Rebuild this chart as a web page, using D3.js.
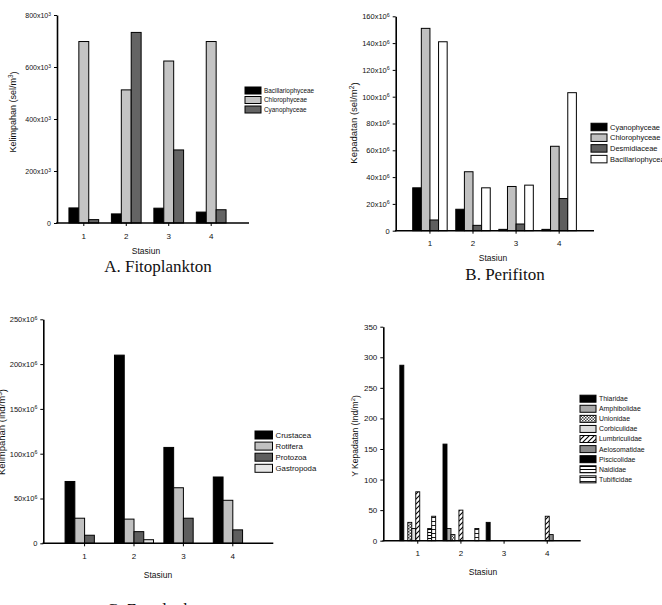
<!DOCTYPE html>
<html><head><meta charset="utf-8">
<script src="https://cdn.jsdelivr.net/npm/d3@7"></script>
<style>body{margin:0;background:#fff}svg{display:block}text{font-family:"Liberation Sans",Arial,sans-serif;fill:#111}</style>
</head><body><svg id="c" width="662" height="605"></svg>
<script>
const stations = ["1","2","3","4"];

// A. Fitoplankton (x10^3 sel/m3)
const fitoSeries = ["Bacillariophyceae","Chlorophyceae","Cyanophyceae"];
const fitoBacillariophyceae = [58, 35, 57, 42];
const fitoChlorophyceae = [698, 512, 623, 698];
const fitoCyanophyceae = [13, 733, 281, 51];
const fitoTicks = [0, 200, 400, 600, 800];

// B. Perifiton (x10^6 sel/m2)
const periSeries = ["Cyanophyceae","Chlorophyceae","Desmidiaceae","Bacillariophyceae"];
const periCyanophyceae = [32, 16, 1, 1];
const periChlorophyceae = [151, 44, 33, 63];
const periDesmidiaceae = [8, 4, 5, 24];
const periBacillariophyceae = [141, 32, 34, 103];
const periTicks = [0, 20, 40, 60, 80, 100, 120, 140, 160];

// C. Zooplankton (x10^6 ind/m3)
const zooSeries = ["Crustacea","Rotifera","Protozoa","Gastropoda"];
const zooCrustacea = [69, 210, 107, 74];
const zooRotifera = [28, 27, 62, 48];
const zooProtozoa = [9, 13, 28, 15];
const zooGastropoda = [0, 4, 0, 0];
const zooTicks = [0, 50, 100, 150, 200, 250];

// D. Bentos (ind/m2)
const bentSeries = ["Thiaridae","Amphibolidae","Unionidae","Corbiculidae","Lumbriculidae","Aelosomatidae","Piscicolidae","Naididae","Tubificidae"];
const bentThiaridae = [287, 158, 30, 0];
const bentAmphibolidae = [0, 20, 0, 0];
const bentUnionidae = [30, 10, 0, 0];
const bentCorbiculidae = [20, 0, 0, 0];
const bentLumbriculidae = [80, 50, 0, 40];
const bentAelosomatidae = [0, 0, 0, 10];
const bentPiscicolidae = [0, 0, 0, 0];
const bentNaididae = [20, 0, 0, 0];
const bentTubificidae = [40, 20, 0, 0];
const bentTicks = [0, 50, 100, 150, 200, 250, 300, 350];

const svg = d3.select("#c");
const defs = svg.append("defs");
function pat(id, w, h, build){
  const p = defs.append("pattern").attr("id", id).attr("patternUnits","userSpaceOnUse").attr("width", w).attr("height", h);
  p.append("rect").attr("width", w).attr("height", h).attr("fill", "#fff");
  build(p);
}
pat("hatch", 5, 5, p => p.append("path").attr("d","M0,5 L5,0 M-1,1 L1,-1 M4,6 L6,4").attr("stroke","#000").attr("stroke-width",1.1));
pat("check", 3, 3, p => { p.append("rect").attr("width",1.5).attr("height",1.5).attr("fill","#444"); p.append("rect").attr("x",1.5).attr("y",1.5).attr("width",1.5).attr("height",1.5).attr("fill","#444"); });
pat("hline", 3, 3, p => p.append("path").attr("d","M0,1.5 H3").attr("stroke","#000").attr("stroke-width",1));
pat("wave", 4, 4, p => p.append("path").attr("d","M0,1 Q1,3 2,1 Q3,3 4,1").attr("stroke","#000").attr("fill","none").attr("stroke-width",0.9));

function supLabel(sel, base, exp, supSize){
  sel.each(function(d){
    const t = d3.select(this);
    t.text(null);
    if (d === 0 || exp === null) { t.text(d); return; }
    t.append("tspan").text(d + "x10" + base);
    t.append("tspan").attr("dy","-0.45em").attr("font-size", supSize).text(exp);
  });
}

function panel(cfg){
  const g = svg.append("g");
  const x0 = d3.scaleBand().domain(stations).range(cfg.xr).padding(cfg.pad);
  const x1 = d3.scaleBand().domain(cfg.series).range([0, x0.bandwidth()]);
  const y = d3.scaleLinear().domain([0, cfg.ymax]).range([cfg.base, cfg.top]);

  cfg.series.forEach((s, i) => {
    g.append("g").selectAll("rect")
      .data(cfg.values[i].map((v, j) => ({v, st: stations[j]})).filter(d => d.v > 0))
      .join("rect")
      .attr("x", d => x0(d.st) + x1(s))
      .attr("width", x1.bandwidth())
      .attr("y", d => y(d.v))
      .attr("height", d => y(0) - y(d.v))
      .attr("fill", cfg.fills[i])
      .attr("stroke", "#000").attr("stroke-width", cfg.bw || 1);
  });

  // y axis
  const ya = g.append("g").attr("transform", `translate(${cfg.ax},0)`)
    .call(d3.axisLeft(y).tickValues(cfg.ticks).tickSize(3).tickPadding(3).tickSizeOuter(0));
  ya.select(".domain").attr("stroke-width", 1.6);
  ya.selectAll(".tick line").attr("stroke-width", 1);
  ya.selectAll(".tick text").attr("font-size", cfg.tfs).attr("font-family", '"Liberation Sans",Arial,sans-serif').attr("fill","#222")
    .call(supLabel, "", cfg.exp, cfg.tfs * 0.7);

  // x axis
  const xa = g.append("g").attr("transform", `translate(0,${cfg.base})`)
    .call(d3.axisBottom(x0).tickSize(3).tickPadding(7).tickSizeOuter(0));
  xa.select(".domain").remove();
  xa.selectAll(".tick text").attr("font-size", 8).attr("font-family", '"Liberation Sans",Arial,sans-serif').attr("fill","#222");
  g.append("line").attr("x1", cfg.ax - 0.8).attr("x2", cfg.axEnd).attr("y1", cfg.base).attr("y2", cfg.base)
    .attr("stroke", "#000").attr("stroke-width", 1.6);

  // y title
  const yt = g.append("text").attr("transform", `translate(${cfg.yt[0]},${cfg.yt[1]}) rotate(-90)`)
    .attr("text-anchor", "middle").attr("font-size", cfg.ytfs);
  yt.append("tspan").text(cfg.ytitle);
  yt.append("tspan").attr("dy", "-0.45em").attr("font-size", cfg.ytfs * 0.7).text(cfg.ysup);
  yt.append("tspan").attr("dy", "0.45em").text(")");

  // x title
  g.append("text").attr("x", cfg.xt[0]).attr("y", cfg.xt[1]).attr("text-anchor", "middle")
    .attr("font-size", 8.5).text("Stasiun");

  // caption
  g.append("text").attr("x", cfg.cap[0]).attr("y", cfg.cap[1]).attr("text-anchor", "middle")
    .attr("font-family", '"Liberation Serif","Times New Roman",serif').style("font-family", '"Liberation Serif","Times New Roman",serif')
    .attr("font-size", 17).text(cfg.caption);

  // legend
  const lg = g.append("g");
  cfg.series.forEach((s, i) => {
    const yy = cfg.leg.y + i * cfg.leg.dy;
    lg.append("rect").attr("x", cfg.leg.x).attr("y", yy - cfg.leg.bh / 2).attr("width", cfg.leg.bw).attr("height", cfg.leg.bh)
      .attr("fill", cfg.fills[i]).attr("stroke", "#000").attr("stroke-width", 1);
    lg.append("text").attr("x", cfg.leg.x + cfg.leg.bw + 3).attr("y", yy).attr("dy", "0.35em")
      .attr("font-size", cfg.leg.fs).text(s);
  });
}

panel({
  series: fitoSeries, values: [fitoBacillariophyceae, fitoChlorophyceae, fitoCyanophyceae],
  fills: ["#000", "#c4c4c4", "#646464"],
  xr: [56.2, 238.8], pad: 0.3, ymax: 800, base: 223, top: 15, ax: 57, axEnd: 249,
  ticks: fitoTicks, tfs: 7, exp: "3",
  yt: [16, 112], ytitle: "Kelimpahan (sel/m", ysup: "3", ytfs: 9,
  xt: [146, 254], cap: [158, 272], caption: "A. Fitoplankton",
  leg: {x: 245, y: 90.5, dy: 9.5, bw: 16, bh: 7, fs: 6.4}
});

panel({
  series: periSeries, values: [periCyanophyceae, periChlorophyceae, periDesmidiaceae, periBacillariophyceae],
  fills: ["#000", "#c0c0c0", "#5e5e5e", "#fff"],
  xr: [404.1, 585], pad: 0.2, ymax: 160, base: 230.7, top: 16.3, ax: 395.7, axEnd: 594,
  ticks: periTicks, tfs: 7.5, exp: "6",
  yt: [357, 123], ytitle: "Kepadatan (sel/m", ysup: "2", ytfs: 9.5,
  xt: [493, 261], cap: [505, 280], caption: "B. Perifiton",
  leg: {x: 591, y: 127, dy: 10.7, bw: 16, bh: 7.5, fs: 7.5}
});

panel({
  series: zooSeries, values: [zooCrustacea, zooRotifera, zooProtozoa, zooGastropoda],
  fills: ["#000", "#c0c0c0", "#5e5e5e", "#e6e6e6"],
  xr: [54.7, 262.7], pad: 0.21, ymax: 250, base: 543.3, top: 319.3, ax: 43.3, axEnd: 273.3,
  ticks: zooTicks, tfs: 7.5, exp: "6",
  yt: [5, 432], ytitle: "Kelimpahan (ind/m", ysup: "3", ytfs: 9.5,
  xt: [158, 578], cap: [160, 615], caption: "C. Zooplankton",
  leg: {x: 255, y: 435, dy: 11.1, bw: 17.5, bh: 8, fs: 7.8}
});

panel({
  series: bentSeries,
  values: [bentThiaridae, bentAmphibolidae, bentUnionidae, bentCorbiculidae, bentLumbriculidae, bentAelosomatidae, bentPiscicolidae, bentNaididae, bentTubificidae],
  fills: ["#000", "#a8a8a8", "url(#check)", "#dcdcdc", "url(#hatch)", "#8a8a8a", "#000", "url(#hline)", "url(#wave)"],
  xr: [392.5, 572.5], pad: 0.17, ymax: 350, base: 540.7, top: 326.7, ax: 383.3, axEnd: 580.7,
  ticks: bentTicks, tfs: 8, exp: null,
  yt: [358, 436], ytitle: "Y Kepadatan (Ind/m", ysup: "2", ytfs: 8.5,
  xt: [483, 574.5], cap: [510, 616], caption: "D. Bentos",
  leg: {x: 580, y: 398.7, dy: 10.08, bw: 16, bh: 7, fs: 6.9}, bw: 0.9
});
</script></body></html>
